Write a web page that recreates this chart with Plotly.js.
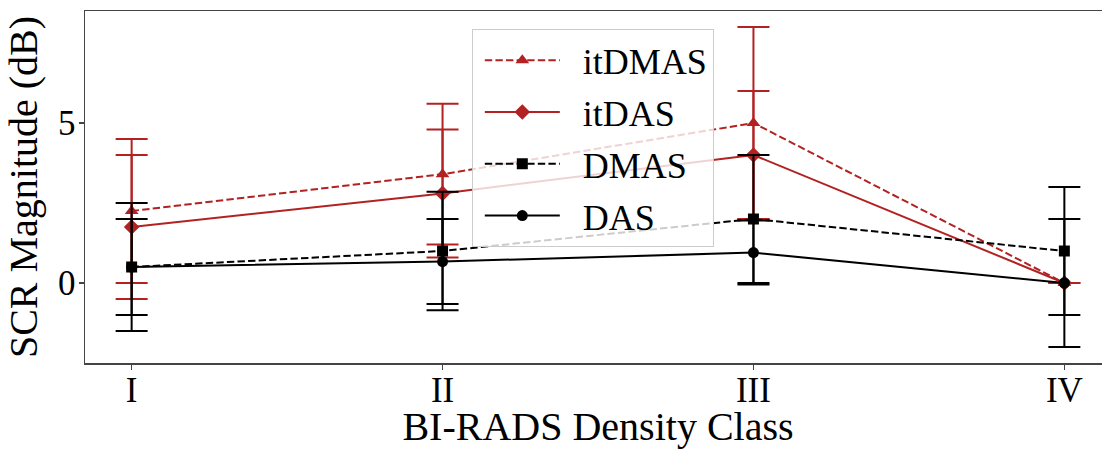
<!DOCTYPE html>
<html>
<head>
<meta charset="utf-8">
<script src="https://cdn.plot.ly/plotly-3.0.1.min.js"></script>
<style>
html, body { margin: 0; padding: 0; overflow: hidden; background: #fff; }
#chart { width: 1112px; height: 449px; }
</style>
</head>
<body>
<div id="chart"></div>
<script>
const categories = ['I', 'II', 'III', 'IV'];
const seriesNames = ['itDMAS', 'itDAS', 'DMAS', 'DAS'];
const itDMAS = [2.25, 3.4, 5.0, 0];
const itDMAS_err = [2.25, 2.2, 3.0, null];
const itDAS = [1.75, 2.8, 4.0, 0];
const itDAS_err = [2.25, 2.0, 2.0, null];
const DMAS = [0.5, 1.0, 2.0, 1.0];
const DMAS_err = [2.0, 1.85, 2.0, 2.0];
const DAS = [0.5, 0.67, 0.95, 0];
const DAS_err = [1.5, 1.33, 1.0, 2.0];
const yTicks = [0, 5];

const RED = '#b22222';
const BLACK = '#000000';
const FONT = "'Liberation Serif', 'Times New Roman', serif";

function makeTrace(name, y, err, color, dash, symbol, size, group) {
  return {
    type: 'scatter', mode: 'lines+markers', name: '\u2002' + name,
    x: categories, y: y,
    legendgroup: group,
    line: { color: color, width: 2, dash: dash },
    marker: { color: color, symbol: symbol, size: size },
    error_y: { type: 'data', array: err, visible: true, color: color, thickness: 2, width: 16 }
  };
}

const data = [
  makeTrace(seriesNames[0], itDMAS, itDMAS_err, RED, '7.4px,3.2px', 'triangle-up', 12, 'g1'),
  makeTrace(seriesNames[1], itDAS, itDAS_err, RED, 'solid', 'diamond', 12, 'g2'),
  makeTrace(seriesNames[2], DMAS, DMAS_err, BLACK, '7.4px,3.2px', 'square', 11, 'g3'),
  makeTrace(seriesNames[3], DAS, DAS_err, BLACK, 'solid', 'circle', 11, 'g4')
];

const layout = {
  width: 1112, height: 449,
  margin: { l: 85, r: 1, t: 11, b: 86 },
  paper_bgcolor: '#fff', plot_bgcolor: '#fff',
  font: { family: FONT, color: '#000' },
  showlegend: true,
  legend: {
    x: 0.377, y: 0.948, xanchor: 'left', yanchor: 'top',
    bgcolor: 'rgba(255,255,255,0.8)', bordercolor: '#cccccc', borderwidth: 1,
    font: { family: FONT, size: 36, color: '#000' },
    traceorder: 'grouped', tracegroupgap: 2, itemwidth: 75, indentation: 7
  },
  xaxis: {
    type: 'category', range: [-0.15, 3.15],
    showgrid: false, zeroline: false,
    showline: true, linecolor: '#444', linewidth: 1.5, mirror: true,
    ticks: 'outside', ticklen: 5, tickwidth: 1.2, tickcolor: '#444',
    ticklabelstandoff: -10,
    tickfont: { family: FONT, size: 35, color: '#000' },
    title: { text: 'BI-RADS Density Class', font: { family: FONT, size: 40, color: '#000' }, standoff: 0 }
  },
  yaxis: {
    range: [-2.5, 8.5],
    tickvals: yTicks, ticktext: yTicks.map(String),
    showgrid: false, zeroline: false,
    showline: true, linecolor: '#444', linewidth: 1.5, mirror: true,
    ticks: 'outside', ticklen: 5, tickwidth: 1.2, tickcolor: '#444',
    ticklabelstandoff: -4,
    tickfont: { family: FONT, size: 35, color: '#000' },
    title: { text: 'SCR Magnitude (dB)', font: { family: FONT, size: 40, color: '#000' }, standoff: 8 }
  }
};

Plotly.newPlot('chart', data, layout, { displayModeBar: false, staticPlot: true });
</script>
</body>
</html>
